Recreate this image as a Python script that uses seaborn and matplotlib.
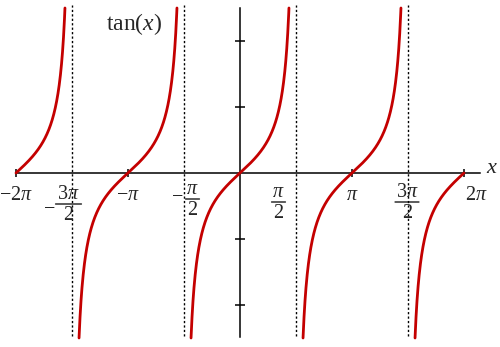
import numpy as np
import pandas as pd
import matplotlib
matplotlib.use("Agg")
import matplotlib.pyplot as plt
import seaborn as sns

PI = np.pi
# ---- data -------------------------------------------------------------
branch_centers = [-2 * PI, -PI, 0.0, PI, 2 * PI]      # zeros of tan(x)
asymptotes = [-1.5 * PI, -0.5 * PI, 0.5 * PI, 1.5 * PI]
x_domain = [-2 * PI, 2 * PI]
y_view = [-5, 5]
y_tick_values = [-4, -2, 2, 4]
x_tick_values = [-2 * PI, -PI, PI, 2 * PI]

single_values = [-2 * PI, -PI, PI, 2 * PI]
single_texts = [r'$-2\pi$', r'$-\pi$', r'$\pi$', r'$2\pi$']

frac_values = [-1.5 * PI, -0.5 * PI, 0.5 * PI, 1.5 * PI]
frac_numerators = [r'$3\pi$', r'$\pi$', r'$\pi$', r'$3\pi$']
frac_denominators = ['2', '2', '2', '2']
frac_negative = [True, True, False, False]

title_text = r'tan($x$)'
axis_name = r'$x$'

# ---- layout (image pixels) -------------------------------------------
single_dx = [0, 0, 0, 12]
single_base = 200
frac_dx = [-3.5, 8.5, -17.5, -1]
frac_bar_y = [204, 199, 202, 202]
frac_half_w = [13, 7, 7, 12]
minus_dx = [-23, -7]
minus_y = [207, 195]

sns.set_style("white")
plt.rcParams['font.family'] = ['Liberation Serif', 'DejaVu Serif']
plt.rcParams['mathtext.fontset'] = 'custom'
plt.rcParams['mathtext.rm'] = 'Liberation Serif'
plt.rcParams['mathtext.it'] = 'Liberation Serif:italic'
plt.rcParams['mathtext.bf'] = 'Liberation Serif:bold'

# ---- build curve table ------------------------------------------------
frames = []
reach = np.arctan(y_view[1])
for i, c in enumerate(branch_centers):
    lo = max(c - reach, x_domain[0])
    hi = min(c + reach, x_domain[1])
    xs = np.linspace(lo, hi, 400)
    frames.append(pd.DataFrame({"x": xs, "y": np.tan(xs), "branch": i}))
df = pd.concat(frames, ignore_index=True)

W, H = 500, 347
fig = plt.figure(figsize=(W / 100, H / 100), dpi=100)
ax = fig.add_axes([0, 0, 1, 1])
ax.set_xlim(-6.732, 7.293)
ax.set_ylim(-5.273, 5.242)

sns.lineplot(data=df, x="x", y="y", units="branch", estimator=None, sort=False,
             color="#C40000", lw=2.0, ax=ax, legend=False, zorder=3)

ax.vlines(asymptotes, -4.94, 5.1, colors="black", linestyles=(0, (1.6, 1.6)),
          lw=1.0, zorder=1)

for s in ["top", "right"]:
    ax.spines[s].set_visible(False)
ax.spines["left"].set_position(("data", 0))
ax.spines["bottom"].set_position(("data", 0))
ax.spines["left"].set_bounds(-4.97, 5.0)
ax.spines["bottom"].set_bounds(-2 * PI, 6.732)
for s in ["left", "bottom"]:
    ax.spines[s].set_linewidth(1.1)
    ax.spines[s].set_color("black")

ax.set_yticks(y_tick_values)
ax.set_xticks(x_tick_values)
ax.tick_params(axis="y", direction="inout", length=7.5, width=1.1, color="black",
               labelleft=False, left=True)
ax.tick_params(axis="x", direction="inout", length=6, width=1.1, color="black",
               labelbottom=False, bottom=True)
ax.set_xlabel("")
ax.set_ylabel("")

fs = 14.5


def tick_px(v):
    return ax.transData.transform((v, 0))[0]


def put(txt, x, y_img, ha="center", va="baseline", size=fs):
    ax.annotate(txt, xy=(x, H - y_img), xycoords="figure pixels",
                ha=ha, va=va, fontsize=size)


for v, t, dx in zip(single_values, single_texts, single_dx):
    put(t, tick_px(v) + dx, single_base)

mi = 0
for v, num, den, neg, dx, by, hw in zip(frac_values, frac_numerators,
                                        frac_denominators, frac_negative,
                                        frac_dx, frac_bar_y, frac_half_w):
    cx = tick_px(v) + dx
    put(num, cx, by - 5)
    put(den, cx, by + 16)
    ax.annotate("", xy=(cx - hw, H - by), xycoords="figure pixels",
                xytext=(cx + hw, H - by), textcoords="figure pixels",
                arrowprops=dict(arrowstyle="-", lw=0.9, color="black",
                                shrinkA=0, shrinkB=0))
    if neg:
        put(r'$-$', tick_px(v) + minus_dx[mi], minus_y[mi], va="center")
        mi += 1

put(title_text, 134, 24, va="center", size=17)
put(axis_name, 492, 173, size=16)

fig.savefig("out.png", dpi=100)
